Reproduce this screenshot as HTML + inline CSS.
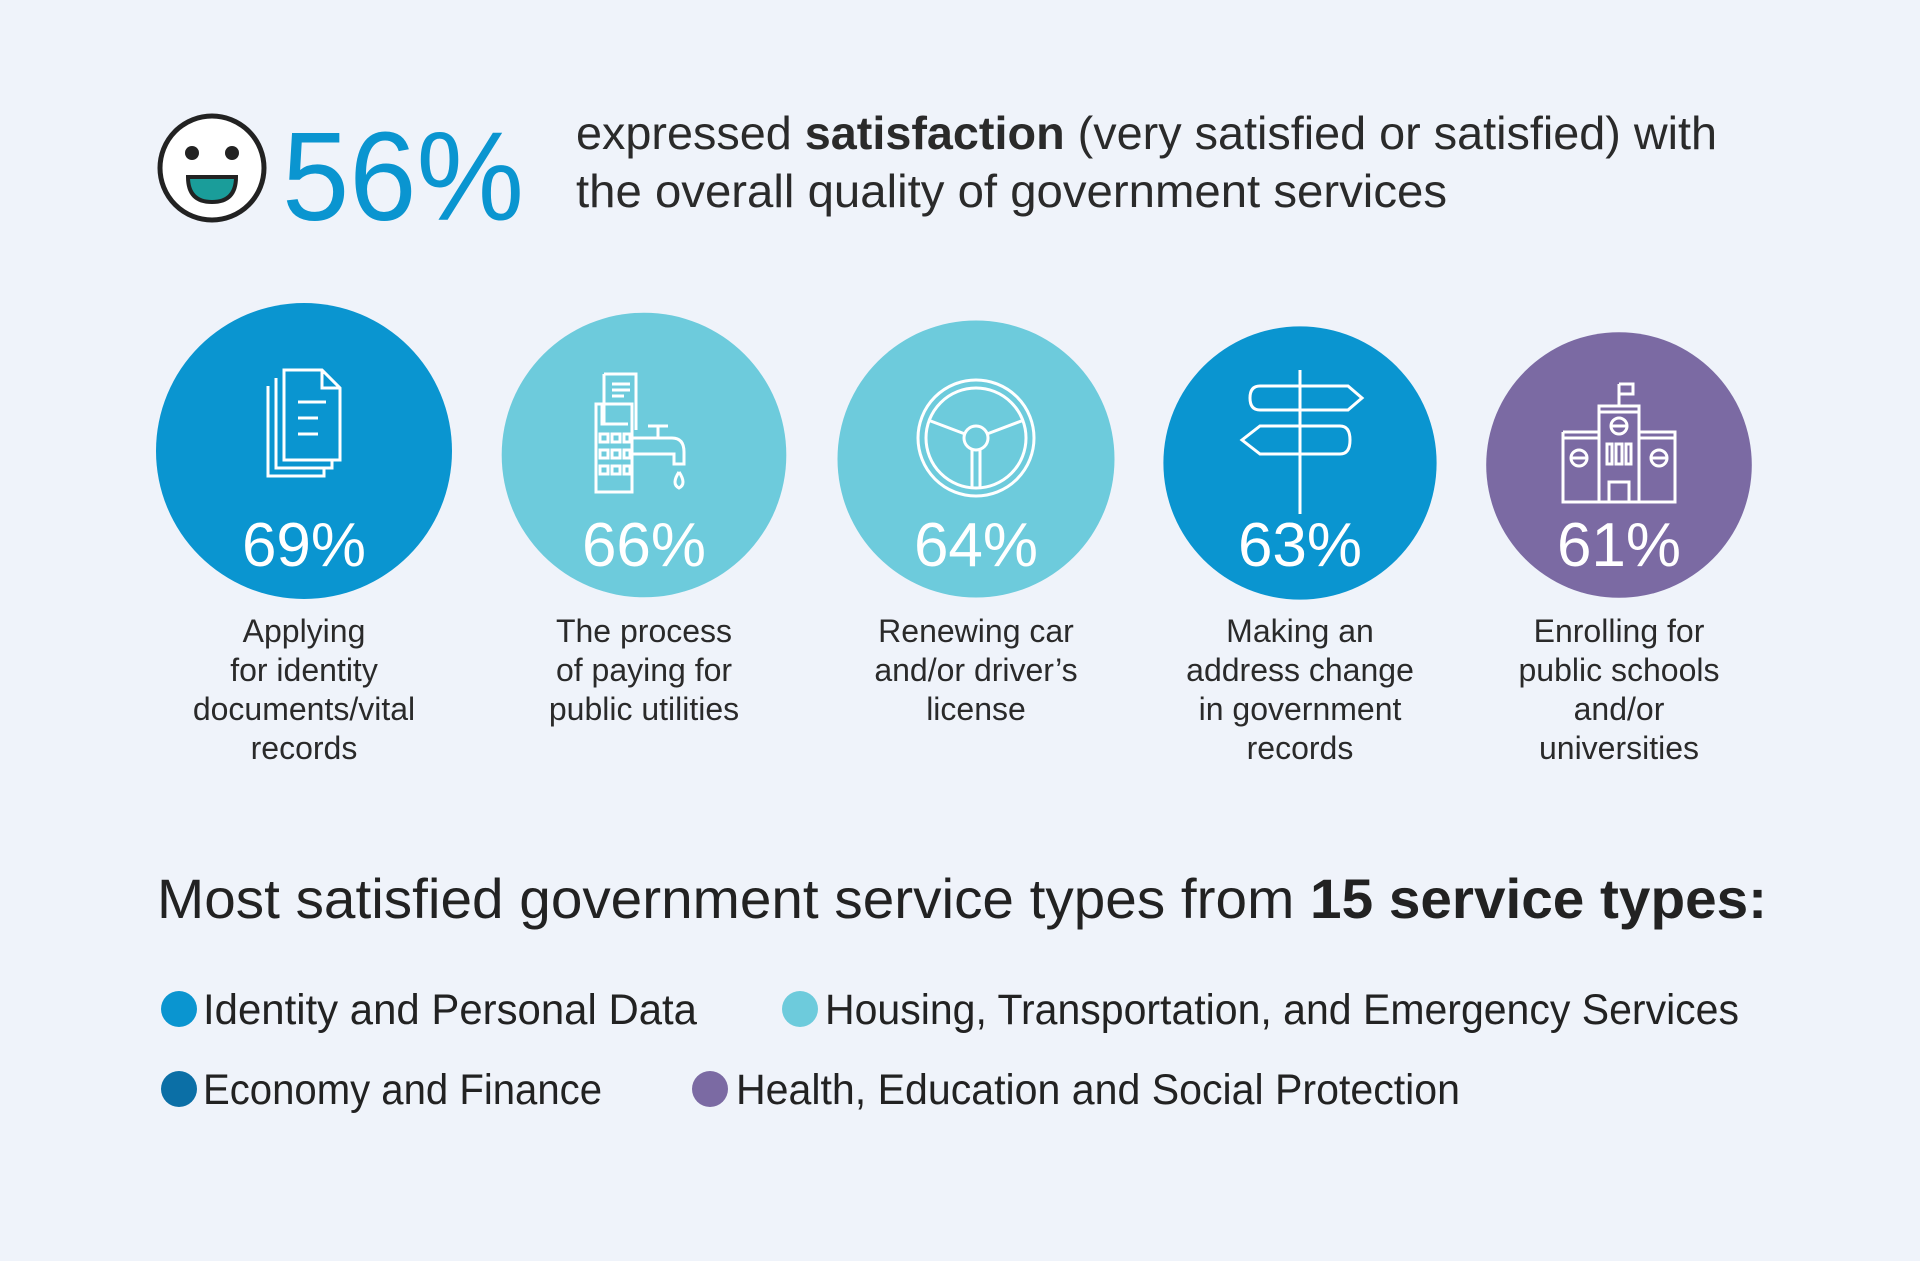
<!DOCTYPE html>
<html><head><meta charset="utf-8"><style>
html,body{margin:0;padding:0;background:#eff3fa;}
svg{display:block;font-family:"Liberation Sans",sans-serif;}
</style></head><body>
<svg id="chart" width="1920" height="1261" viewBox="0 0 1920 1261">
<rect width="1920" height="1261" fill="#eff3fa"/>
<g>
<circle cx="212" cy="168" r="52" fill="#fff" stroke="#222" stroke-width="5"/>
<circle cx="192" cy="153" r="7" fill="#222"/><circle cx="232" cy="153" r="7" fill="#222"/>
<path d="M188 177 H236 Q236 202 212 202 Q188 202 188 177 Z" fill="#1a9d9a" stroke="#222" stroke-width="4"/>
</g>
<text x="282" y="220" font-size="126" fill="#0a95d0" textLength="242" lengthAdjust="spacingAndGlyphs">56%</text>
<text x="576" y="149" font-size="46" fill="#2a2a2a" textLength="1141" lengthAdjust="spacingAndGlyphs">expressed <tspan font-weight="bold">satisfaction</tspan> (very satisfied or satisfied) with</text>
<text x="576" y="207" font-size="46" fill="#2a2a2a" textLength="871" lengthAdjust="spacingAndGlyphs">the overall quality of government services</text>
<g id="circles"></g>
<text x="157" y="918" font-size="56" fill="#222" textLength="1610" lengthAdjust="spacingAndGlyphs">Most satisfied government service types from <tspan font-weight="bold">15 service types:</tspan></text>
<g>
<g><circle cx="179" cy="1009" r="18" fill="#0a95d0"/><text x="203" y="1024" font-size="43" fill="#222" textLength="494" lengthAdjust="spacingAndGlyphs">Identity and Personal Data</text></g>
<g><circle cx="800" cy="1009" r="18" fill="#6dcbdc"/><text x="825" y="1024" font-size="43" fill="#222" textLength="914" lengthAdjust="spacingAndGlyphs">Housing, Transportation, and Emergency Services</text></g>
<g><circle cx="179" cy="1089" r="18" fill="#0b6fa6"/><text x="203" y="1104" font-size="43" fill="#222" textLength="399" lengthAdjust="spacingAndGlyphs">Economy and Finance</text></g>
<g><circle cx="710" cy="1089" r="18" fill="#7b6aa3"/><text x="736" y="1104" font-size="43" fill="#222" textLength="724" lengthAdjust="spacingAndGlyphs">Health, Education and Social Protection</text></g>
</g>
</svg>
<script>
const values = [69, 66, 64, 63, 61];
const labels = [
  ["Applying","for identity","documents/vital","records"],
  ["The process","of paying for","public utilities"],
  ["Renewing car","and/or driver’s","license"],
  ["Making an","address change","in government","records"],
  ["Enrolling for","public schools","and/or","universities"]
];
const colors = ["#0a95d0","#6dcbdc","#6dcbdc","#0a95d0","#7b6aa3"];
const cxs = [304, 644, 976, 1300, 1619];
const cys = [451, 455, 459, 463, 465];
const NS = "http://www.w3.org/2000/svg";
const g = document.getElementById("circles");
function rOf(v){ return 148 - (69 - v) * 1.9; }
const icons = [
 '<path d="M-20 -60 H18 L36 -42 V30 H-20 Z M18 -60 V-42 H36 M-28 -52 V38 H28 V30 M-36 -44 V46 H20 V38 M-6 -28 H22 M-6 -12 H14 M-6 4 H14" />',
 '<path d="M-40 -60 H-8 V-4 M-40 -60 V-10 M-32 -50 H-14 M-32 -44 H-14 M-32 -38 H-20 M-48 -30 V58 H-12 V-30 Z M-42 -30 V-10 H-16 M-44 0 h8 v8 h-8z M-32 0 h8 v8 h-8z M-20 0 h6 v8 h-6z M-44 16 h8 v8 h-8z M-32 16 h8 v8 h-8z M-20 16 h6 v8 h-6z M-44 32 h8 v8 h-8z M-32 32 h8 v8 h-8z M-20 32 h6 v8 h-6z M-12 4 H28 Q40 4 40 18 V30 H30 V20 H-12 M14 4 V-8 M4 -8 H24 M35 38 Q27 50 35 54 Q43 50 35 38" />',
 '<circle r="58"/><circle r="50"/><circle r="12"/><path d="M-11 -4 L-48 -18 M11 -4 L48 -18 M-4 12 V50 M4 12 V50"/>',
 '<path d="M0 -72 V72 M-40 -56 H48 L62 -44 L48 -32 H-40 Q-50 -32 -50 -44 Q-50 -56 -40 -56 Z M40 -16 H-40 L-58 -2 L-40 12 H40 Q50 12 50 -2 Q50 -16 40 -16 Z"/>',
 '<path d="M0 -60 V-38 M0 -60 H14 V-50 H0 M-20 -38 H20 V58 H-20 Z M-20 -32 H20 M-56 -12 H-20 M20 -12 H56 V58 H20 M-56 -12 V58 H-20 M-56 -6 H-20 M20 -6 H56 M-10 58 V38 H10 V58 M-12 0 v20 h5 v-20z M-3 0 v20 h6 v-20z M7 0 v20 h5 v-20z"/><circle cy="-18" r="8"/><circle cx="-40" cy="14" r="8"/><circle cx="40" cy="14" r="8"/><path d="M-8 -18 H8 M-48 14 H-32 M32 14 H48"/>'
];
values.forEach((v, i) => {
  const grp = document.createElementNS(NS, "g");
  
  
  const c = document.createElementNS(NS, "circle");
  
  
  c.setAttribute("cx", cxs[i]); c.setAttribute("cy", cys[i]); c.setAttribute("r", rOf(v));
  c.setAttribute("fill", colors[i]);
  grp.appendChild(c);
  const ic = document.createElementNS(NS, "g");
  
  
  ic.setAttribute("transform", `translate(${cxs[i]},${cys[i] - 21})`);
  ic.setAttribute("fill", "none"); ic.setAttribute("stroke", "#fff"); ic.setAttribute("stroke-width", "3");
  ic.innerHTML = icons[i];
  grp.appendChild(ic);
  const t = document.createElementNS(NS, "text");
  
  
  t.setAttribute("x", cxs[i]); t.setAttribute("y", 566);
  t.setAttribute("text-anchor", "middle"); t.setAttribute("font-size", "62"); t.setAttribute("fill", "#fff");
  t.textContent = v + "%";
  grp.appendChild(t);
  labels[i].forEach((ln, j) => {
    const l = document.createElementNS(NS, "text");
    
    
    l.setAttribute("x", cxs[i]); l.setAttribute("y", 642 + j * 39);
    l.setAttribute("text-anchor", "middle"); l.setAttribute("font-size", "32"); l.setAttribute("fill", "#2a2a2a");
    l.textContent = ln;
    grp.appendChild(l);
  });
  g.appendChild(grp);
});
</script>
</body></html>
